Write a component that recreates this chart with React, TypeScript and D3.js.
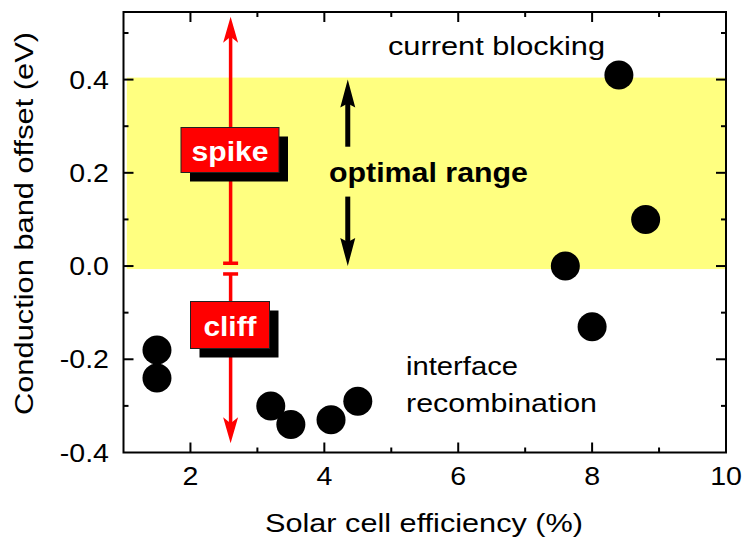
import React from "react";
import * as d3 from "d3";

// Measured devices: efficiency (%) vs conduction band offset (eV)
const efficiency = [1.5, 1.5, 3.2, 3.5, 4.1, 4.5, 7.6, 8.0, 8.4, 8.8];
const bandOffset = [-0.18, -0.24, -0.3, -0.34, -0.33, -0.29, 0.0, -0.13, 0.41, 0.1];

const xMajorTicks = [2, 4, 6, 8, 10];
const xMinorTicks = [3, 5, 7, 9];
const yMajorTicks = [-0.4, -0.2, 0.0, 0.2, 0.4];
const yMinorTicks = [-0.3, -0.1, 0.1, 0.3, 0.5];
const yTickLabels = ["-0.4", "-0.2", "0.0", "0.2", "0.4"];

// Optimal offset window
const optimalRange = [0.0, 0.4];
// Spike / cliff arrow (x position, spike from..to, cliff from..to)
const spikeCliffX = 2.6;
const spikeSpan = [0.006, 0.535];
const cliffSpan = [-0.017, -0.38];
// Optimal-range double arrow
const optimalArrowX = 4.35;
const optimalArrowGap = [0.256, 0.149];

const W = 745;
const H = 548;
const FONT = "'Liberation Sans', Arial, Helvetica, sans-serif";

const x = d3.scaleLinear().domain([1, 10]).range([123.5, 726]);
const y = d3.scaleLinear().domain([-0.4, 0.545]).range([452.5, 12]);

const left = x.range()[0];
const right = x.range()[1];
const top = y.range()[1];
const bottom = y.range()[0];

function arrowHead(cx: number, tipY: number, dir: number, len: number, half: number, notch: number) {
  // dir = -1 points up, +1 points down
  const back = tipY - dir * len;
  const mid = tipY - dir * (len - notch);
  return `M${cx},${tipY} L${cx - half},${back} L${cx},${mid} L${cx + half},${back} Z`;
}

function StretchText(props: {
  x: number;
  y: number;
  sx?: number;
  size: number;
  anchor?: string;
  weight?: string;
  fill?: string;
  children: React.ReactNode;
}) {
  const { sx = 1.12, size, anchor = "start", weight = "normal", fill = "#000" } = props;
  return (
    <text
      transform={`translate(${props.x},${props.y}) scale(${sx},1)`}
      fontSize={size}
      fontFamily={FONT}
      fontWeight={weight}
      textAnchor={anchor}
      fill={fill}
    >
      {props.children}
    </text>
  );
}

function LabelBox(props: { cx: number; top: number; w: number; h: number; text: string; baseline: number; width: number }) {
  const { cx, top: t, w, h, text, baseline, width } = props;
  const off = 9;
  return (
    <g>
      <rect x={cx - w / 2 + off} y={t + off} width={w} height={h} fill="#000" />
      <rect x={cx - w / 2} y={t} width={w} height={h} fill="#ff0000" stroke="#222" strokeWidth={1} />
      <text
        x={cx}
        y={baseline}
        fontSize={28}
        fontWeight="bold"
        fontFamily={FONT}
        fill="#fff"
        textAnchor="middle"
        textLength={width}
        lengthAdjust="spacingAndGlyphs"
      >
        {text}
      </text>
    </g>
  );
}

export default function App() {
  const ax = x(spikeCliffX);
  const bx = x(optimalArrowX);
  const red = "#ff0000";

  return (
    <svg width={W} height={H} style={{ position: "absolute", left: 0, top: 0, background: "#fff" }}>
      {/* optimal range band */}
      <rect
        x={x(1.05)}
        y={y(optimalRange[1]) - 2}
        width={right - x(1.05)}
        height={y(optimalRange[0]) - y(optimalRange[1]) + 5}
        fill="#ffff80"
      />

      {/* spike arrow */}
      <line x1={ax} x2={ax} y1={y(spikeSpan[0])} y2={y(spikeSpan[1]) + 18} stroke={red} strokeWidth={3.5} />
      <path d={arrowHead(ax, y(spikeSpan[1]), -1, 26, 7.5, 6)} fill={red} />
      <rect x={ax - 7.5} y={y(spikeSpan[0]) - 1.75} width={15} height={3.5} fill={red} />

      {/* cliff arrow */}
      <line x1={ax} x2={ax} y1={y(cliffSpan[0])} y2={y(cliffSpan[1]) - 18} stroke={red} strokeWidth={3.5} />
      <path d={arrowHead(ax, y(cliffSpan[1]), 1, 26, 7.5, 6)} fill={red} />
      <rect x={ax - 7.5} y={y(cliffSpan[0]) - 1.75} width={15} height={3.5} fill={red} />

      <LabelBox cx={230} top={127.5} w={98} h={45} text="spike" baseline={161} width={77} />
      <LabelBox cx={230} top={301.5} w={79} h={47} text="cliff" baseline={336} width={53} />

      {/* optimal range double arrow */}
      <line x1={bx} x2={bx} y1={y(optimalRange[1]) + 20} y2={y(optimalArrowGap[0])} stroke="#000" strokeWidth={5} />
      <path d={arrowHead(bx, y(optimalRange[1]), -1, 28, 7.5, 4)} fill="#000" />
      <line x1={bx} x2={bx} y1={y(optimalArrowGap[1])} y2={y(optimalRange[0]) - 20} stroke="#000" strokeWidth={5} />
      <path d={arrowHead(bx, y(optimalRange[0]), 1, 28, 7.5, 4)} fill="#000" />

      <text x={329} y={181.5} fontSize={27} fontWeight="bold" fontFamily={FONT} textLength={199} lengthAdjust="spacingAndGlyphs">
        optimal range
      </text>
      <text x={388} y={55} fontSize={26.5} fontFamily={FONT} textLength={217} lengthAdjust="spacingAndGlyphs">
        current blocking
      </text>
      <text x={406} y={375} fontSize={26.5} fontFamily={FONT} textLength={112} lengthAdjust="spacingAndGlyphs">
        interface
      </text>
      <text x={406} y={411.5} fontSize={26.5} fontFamily={FONT} textLength={191} lengthAdjust="spacingAndGlyphs">
        recombination
      </text>

      {/* data points */}
      {efficiency.map((e, i) => (
        <circle key={i} cx={x(e)} cy={y(bandOffset[i])} r={14.5} fill="#000" />
      ))}

      {/* frame and ticks */}
      <rect x={left} y={top} width={right - left} height={bottom - top} fill="none" stroke="#000" strokeWidth={2} />
      {xMajorTicks.filter((t) => t < 10).map((t) => (
        <g key={"xm" + t}>
          <line x1={x(t)} x2={x(t)} y1={bottom} y2={bottom - 10} stroke="#000" strokeWidth={2} />
          <line x1={x(t)} x2={x(t)} y1={top} y2={top + 10} stroke="#000" strokeWidth={2} />
        </g>
      ))}
      {xMinorTicks.map((t) => (
        <g key={"xn" + t}>
          <line x1={x(t)} x2={x(t)} y1={bottom} y2={bottom - 5} stroke="#000" strokeWidth={2} />
          <line x1={x(t)} x2={x(t)} y1={top} y2={top + 5} stroke="#000" strokeWidth={2} />
        </g>
      ))}
      {yMajorTicks.filter((t) => t > -0.4).map((t) => (
        <g key={"ym" + t}>
          <line x1={left} x2={left + 10} y1={y(t)} y2={y(t)} stroke="#000" strokeWidth={2} />
          <line x1={right} x2={right - 10} y1={y(t)} y2={y(t)} stroke="#000" strokeWidth={2} />
        </g>
      ))}
      {yMinorTicks.map((t) => (
        <g key={"yn" + t}>
          <line x1={left} x2={left + 5} y1={y(t)} y2={y(t)} stroke="#000" strokeWidth={2} />
          <line x1={right} x2={right - 5} y1={y(t)} y2={y(t)} stroke="#000" strokeWidth={2} />
        </g>
      ))}

      {/* tick labels */}
      {xMajorTicks.map((t) => (
        <StretchText key={"xl" + t} x={x(t)} y={484.5} size={25.5} anchor="middle">
          {String(t)}
        </StretchText>
      ))}
      {yMajorTicks.map((t, i) => (
        <StretchText key={"yl" + t} x={109} y={y(t) + 9} size={25.5} anchor="end">
          {yTickLabels[i]}
        </StretchText>
      ))}

      {/* axis titles */}
      <text
        x={424}
        y={532}
        fontSize={25.5}
        fontFamily={FONT}
        textAnchor="middle"
        textLength={318}
        lengthAdjust="spacingAndGlyphs"
      >
        Solar cell efficiency (%)
      </text>
      <text
        transform={`translate(33,223.5) rotate(-90)`}
        fontSize={25.5}
        fontFamily={FONT}
        textAnchor="middle"
        textLength={383}
        lengthAdjust="spacingAndGlyphs"
      >
        Conduction band offset (eV)
      </text>
    </svg>
  );
}
